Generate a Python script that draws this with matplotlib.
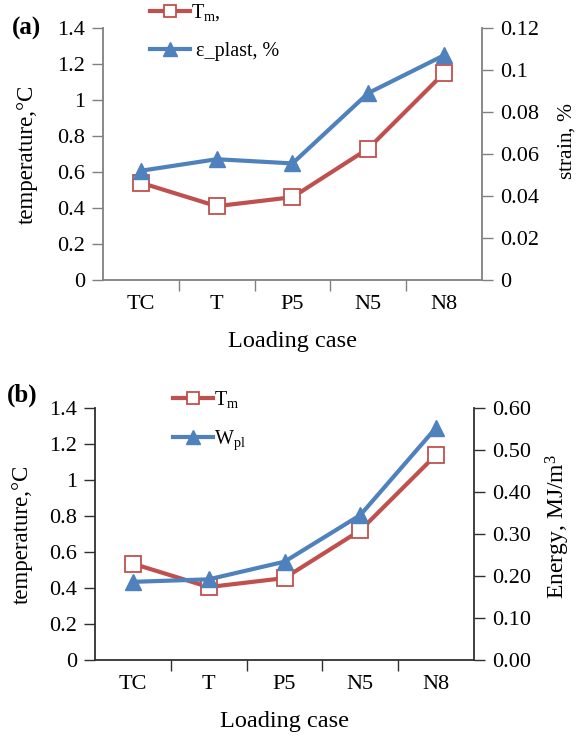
import matplotlib
matplotlib.use("Agg")
import matplotlib.pyplot as plt
from matplotlib.ticker import FixedLocator

plt.rcParams['font.family'] = ['Liberation Serif', 'DejaVu Serif']
plt.rcParams['mathtext.fontset'] = 'custom'
plt.rcParams['mathtext.rm'] = 'Liberation Serif'
plt.rcParams['mathtext.it'] = 'Liberation Serif:italic'

# data
cases = ["TC", "T", "P5", "N5", "N8"]
tm_a = [0.54, 0.41, 0.46, 0.73, 1.15]
strain_a = [0.052, 0.0575, 0.0555, 0.089, 0.107]
tm_b = [0.535, 0.405, 0.455, 0.72, 1.14]
wpl_b = [0.186, 0.192, 0.234, 0.345, 0.553]

left_ticks = [0, 0.2, 0.4, 0.6, 0.8, 1.0, 1.2, 1.4]
left_labels = ["0", "0.2", "0.4", "0.6", "0.8", "1", "1.2", "1.4"]
strain_ticks = [0, 0.02, 0.04, 0.06, 0.08, 0.10, 0.12]
strain_labels = ["0", "0.02", "0.04", "0.06", "0.08", "0.1", "0.12"]
energy_ticks = [0, 0.1, 0.2, 0.3, 0.4, 0.5, 0.6]
energy_labels = ["0.00", "0.10", "0.20", "0.30", "0.40", "0.50", "0.60"]

RED = "#C0504D"
BLUE = "#4F81BD"
FS = 16

fig = plt.figure(figsize=(5.78, 7.36), dpi=100)


def make_panel(rect, tm, other, oticks, olabels, otop, spine_col,
               rlabel, rlabel_fs, rlabel_y, letter, letter_xy,
               leg_labels, leg_anchor, ylabel_pad):
    ax = fig.add_axes(rect)
    ax2 = ax.twinx()
    x = list(range(len(cases)))
    ax.plot(x, tm, color=RED, lw=3, marker="s", ms=11, mfc="white",
            mec=RED, mew=1.3, label=leg_labels[0], zorder=3)
    ax2.plot(x, other, color=BLUE, lw=3, marker="^", ms=12, mfc=BLUE,
             mec=BLUE, label=leg_labels[1], zorder=3)
    ax.set_xlim(-0.5, len(cases) - 0.5)
    ax.set_ylim(0, 1.4)
    ax2.set_ylim(0, otop)
    ax.set_yticks(left_ticks)
    ax.set_yticklabels(left_labels)
    ax2.set_yticks(oticks)
    ax2.set_yticklabels(olabels)
    ax.set_xticks(x)
    ax.set_xticklabels(cases)
    ax.xaxis.set_minor_locator(FixedLocator([0.5, 1.5, 2.5, 3.5]))
    ax.tick_params(axis="x", which="major", length=0, labelsize=FS, pad=11)
    ax.tick_params(axis="x", which="minor", length=8, width=1, color=spine_col,
                   direction="out")
    ax.tick_params(axis="y", length=8, width=1, color=spine_col,
                   labelsize=FS, pad=5)
    ax2.tick_params(axis="y", length=8, width=1, color=spine_col,
                    labelsize=FS, pad=5)
    for a in (ax, ax2):
        a.spines["top"].set_visible(False)
        for s in ("left", "right", "bottom"):
            a.spines[s].set_color(spine_col)
            a.spines[s].set_linewidth(1.3)
    ax.spines["right"].set_visible(False)
    ax2.spines["left"].set_visible(False)
    ax2.spines["bottom"].set_visible(False)
    ax.set_xlabel("Loading case", fontsize=17.5, labelpad=12)
    ax.set_ylabel("temperature,°C", fontsize=16.5, labelpad=ylabel_pad)
    ax2.set_ylabel(rlabel, fontsize=rlabel_fs)
    ax2.yaxis.set_label_coords(rlabel_y[0], rlabel_y[1])
    fig.text(letter_xy[0], letter_xy[1], letter, fontsize=18,
             fontweight="bold", ha="left", va="center")
    h1, l1 = ax.get_legend_handles_labels()
    h2, l2 = ax2.get_legend_handles_labels()
    fig.legend(h1 + h2, l1 + l2, loc="upper left",
               bbox_to_anchor=leg_anchor, bbox_transform=fig.transFigure,
               frameon=False, fontsize=14.5, handlelength=2.0,
               handletextpad=0.05, labelspacing=0.95, borderaxespad=0,
               borderpad=0, markerscale=0.8)
    return ax, ax2


make_panel([0.1782, 0.6196, 0.6557, 0.3424], tm_a, strain_a,
           strain_ticks, strain_labels, 0.12, "#808080",
           "strain, $\\mathit{\\%}$", 15.5, (1.195, 0.55), "(a)", (0.02, 0.962),
           ["T$_{\\mathrm{m}}$,", " ε_plast, %"], (0.2595, 0.997), 14)

make_panel([0.1644, 0.1033, 0.6557, 0.3424], tm_b, wpl_b,
           energy_ticks, energy_labels, 0.60, "#303030",
           "Energy, MJ/m$^3$", 17, (1.185, 0.53), "(b)", (0.012, 0.463),
           ["T$_{\\mathrm{m}}$", "W$_{\\mathrm{pl}}$"], (0.299, 0.472), 12)

fig.savefig("out.png", dpi=100)
